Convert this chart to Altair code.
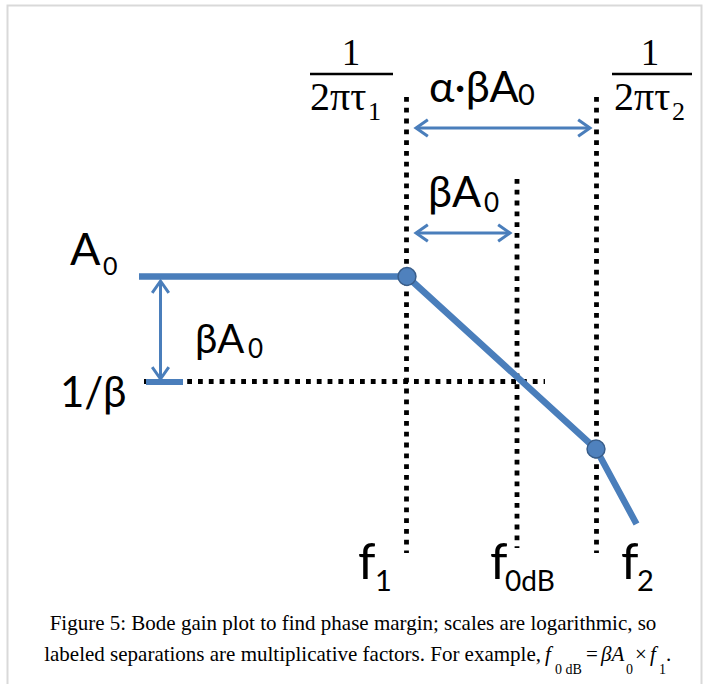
import math
import altair as alt
import pandas as pd

W, H = 706, 684
BLUE = "#4A7EBB"
BLUE_FILL = "#4F81BD"
BLUE_EDGE = "#385D8A"

# ---- drawing coordinates (x to the right, y downward) ----
# asymptotic gain curve: flat at A0, -20 dB/dec after f1, steeper after f2
curve_x = [139, 407, 596, 636.5]
curve_y = [276.5, 276.5, 449, 524]

# break points (poles)
pole_x = [407, 596]
pole_y = [276.5, 449]

# dotted guides: three frequency markers and the 1/beta level
guide_x1 = [406.5, 517, 596.5, 144]
guide_x2 = [406.5, 517, 596.5, 545]
guide_y1 = [97, 179, 97, 381.5]
guide_y2 = [553, 548, 553, 381.5]

# short bar marking the 1/beta level
bar_x1, bar_x2, bar_y = [146], [183], [382]

# double-headed arrows (start, end)
arrow_x1 = [416, 416, 160.5]
arrow_x2 = [590, 510, 160.5]
arrow_y1 = [128, 233, 281]
arrow_y2 = [128, 233, 379]

# fraction bars of 1/(2*pi*tau)
frac_x1, frac_x2, frac_y = [310, 612], [393, 692], [74, 74]

# ---- text ----
lab_text = ["A", "1/β", "βA", "βA", "α·βA", "f", "f", "f"]
lab_x = [70, 60, 195, 428, 429, 358, 490, 621]
lab_y = [265, 407, 353, 207, 102, 579, 579, 579]
lab_size = [45, 42, 40, 43, 43, 50, 50, 50]

sub_text = ["0", "0", "0", "0", "1", "0dB", "2"]
sub_x = [103, 248, 484, 518, 375, 505, 637]
sub_y = [275, 358, 212, 105, 591, 591, 591]
sub_size = [25, 26, 26, 29, 29, 28, 29]

frac_text = ["1", "2πτ", "1", "2πτ"]
frac_tx = [351, 310, 650, 614]
frac_ty = [65, 110, 65, 110]
frac_align = ["center", "left", "center", "left"]
frac_sub = ["1", "2"]
frac_sub_x = [368, 672]
frac_sub_y = [120, 120]

cap_lines = [
    "Figure 5: Bode gain plot to find phase margin; scales are logarithmic, so",
    "labeled separations are multiplicative factors. For example,",
]
cap_x = [353, 541]
cap_y = [630, 661]
cap_align = ["center", "right"]

math_italic = ["f", "βA", "f"]
math_italic_x = [545, 601, 650]
math_roman = ["=", "×", "."]
math_roman_x = [586, 635, 666]
math_sub = ["0 dB", "0", "1"]
math_sub_x = [555, 626, 659]

# ---- tables ----
curve = pd.DataFrame({"x": curve_x, "y": curve_y})
poles = pd.DataFrame({"x": pole_x, "y": pole_y})
guides = pd.DataFrame({"x": guide_x1, "x2": guide_x2, "y": guide_y1, "y2": guide_y2})
bar = pd.DataFrame({"x": bar_x1, "x2": bar_x2, "y": bar_y})
shafts = pd.DataFrame({"x": arrow_x1, "x2": arrow_x2, "y": arrow_y1, "y2": arrow_y2})

heads = []
for x1, y1, x2, y2 in zip(arrow_x1, arrow_y1, arrow_x2, arrow_y2):
    a = math.degrees(math.atan2(y2 - y1, x2 - x1))
    heads.append({"x": x2, "y": y2, "angle": a % 360})
    heads.append({"x": x1, "y": y1, "angle": (a + 180) % 360})
heads = pd.DataFrame(heads)

fracs = pd.DataFrame({"x": frac_x1, "x2": frac_x2, "y": frac_y})
labels = pd.DataFrame({"x": lab_x, "y": lab_y, "t": lab_text, "s": lab_size})
subs = pd.DataFrame({"x": sub_x, "y": sub_y, "t": sub_text, "s": sub_size})
frac_txt = pd.DataFrame({"x": frac_tx, "y": frac_ty, "t": frac_text, "a": frac_align})
frac_subs = pd.DataFrame({"x": frac_sub_x, "y": frac_sub_y, "t": frac_sub})
caption = pd.DataFrame({"x": cap_x, "y": cap_y, "t": cap_lines, "a": cap_align})
m_it = pd.DataFrame({"x": math_italic_x, "y": [661] * 3, "t": math_italic})
m_rm = pd.DataFrame({"x": math_roman_x, "y": [661] * 3, "t": math_roman})
m_sub = pd.DataFrame({"x": math_sub_x, "y": [674] * 3, "t": math_sub})
frame = pd.DataFrame({"x": [7.5], "x2": [701.5], "y": [5.5], "y2": [700]})

xs = alt.Scale(domain=[0, W], nice=False, zero=False)
ys = alt.Scale(domain=[H, 0], nice=False, zero=False)
X = lambda f="x": alt.X(f"{f}:Q", scale=xs, axis=None)
Y = lambda f="y": alt.Y(f"{f}:Q", scale=ys, axis=None)

border = alt.Chart(frame).mark_rect(fill=None, stroke="#d9d9d9", strokeWidth=2).encode(
    x=X(), x2="x2:Q", y=Y(), y2="y2:Q")

dotted = alt.Chart(guides).mark_rule(
    color="black", strokeWidth=4.8, strokeDash=[4.8, 6], strokeCap="butt"
).encode(x=X(), x2="x2:Q", y=Y(), y2="y2:Q")

level_bar = alt.Chart(bar).mark_rule(color=BLUE, strokeWidth=6).encode(
    x=X(), x2="x2:Q", y=Y())

gain = alt.Chart(curve).mark_line(color=BLUE, strokeWidth=6.5, strokeJoin="round").encode(
    x=X(), y=Y(), order=alt.Order("x:Q"))

pole_marks = alt.Chart(poles).mark_point(
    shape="circle", filled=True, size=320, fill=BLUE_FILL, stroke=BLUE_EDGE,
    strokeWidth=1.5, opacity=1
).encode(x=X(), y=Y())

shaft = alt.Chart(shafts).mark_rule(color=BLUE, strokeWidth=3).encode(
    x=X(), x2="x2:Q", y=Y(), y2="y2:Q")

head = alt.Chart(heads).mark_point(
    shape="M -1 -0.7 L 0 0 L -1 0.7", filled=False, size=560, color=BLUE,
    strokeWidth=3, opacity=1
).encode(x=X(), y=Y(), angle=alt.Angle("angle:Q", scale=None))

frac_bar = alt.Chart(fracs).mark_rule(color="black", strokeWidth=2.5).encode(
    x=X(), x2="x2:Q", y=Y())

label_marks = alt.Chart(labels).mark_text(
    font="Lato", align="left", baseline="alphabetic", color="black"
).encode(x=X(), y=Y(), text="t:N", size=alt.Size("s:Q", scale=None))

sub_marks = alt.Chart(subs).mark_text(
    font="Lato", align="left", baseline="alphabetic", color="black"
).encode(x=X(), y=Y(), text="t:N", size=alt.Size("s:Q", scale=None))

frac_layers = [
    alt.Chart(frac_txt[frac_txt.a == al]).mark_text(
        font="Liberation Serif", fontSize=sz, align=al, baseline="alphabetic", color="black"
    ).encode(x=X(), y=Y(), text="t:N")
    for al, sz in [("center", 37), ("left", 40)]
]
frac_sub_marks = alt.Chart(frac_subs).mark_text(
    font="Liberation Serif", fontSize=26, align="left", baseline="alphabetic", color="black"
).encode(x=X(), y=Y(), text="t:N")

cap_layers = [
    alt.Chart(caption[caption.a == al]).mark_text(
        font="Liberation Serif", fontSize=21, align=al, baseline="alphabetic", color="black"
    ).encode(x=X(), y=Y(), text="t:N")
    for al in ["center", "right"]
]
m_it_marks = alt.Chart(m_it).mark_text(
    font="Liberation Serif", fontSize=21, fontStyle="italic", align="left",
    baseline="alphabetic", color="black"
).encode(x=X(), y=Y(), text="t:N")
m_rm_marks = alt.Chart(m_rm).mark_text(
    font="Liberation Serif", fontSize=21, align="left", baseline="alphabetic", color="black"
).encode(x=X(), y=Y(), text="t:N")
m_sub_marks = alt.Chart(m_sub).mark_text(
    font="Liberation Serif", fontSize=14, align="left", baseline="alphabetic", color="black"
).encode(x=X(), y=Y(), text="t:N")

chart = alt.layer(
    border, dotted, level_bar, gain, pole_marks, shaft, head, frac_bar,
    label_marks, sub_marks, *frac_layers, frac_sub_marks,
    *cap_layers, m_it_marks, m_rm_marks, m_sub_marks,
).properties(
    width=W, height=H, padding=0, autosize=alt.AutoSizeParams(type="none"),
    background="white",
).configure_view(stroke=None)

chart.save("out.html", embed_options={"renderer": "svg", "actions": False})
